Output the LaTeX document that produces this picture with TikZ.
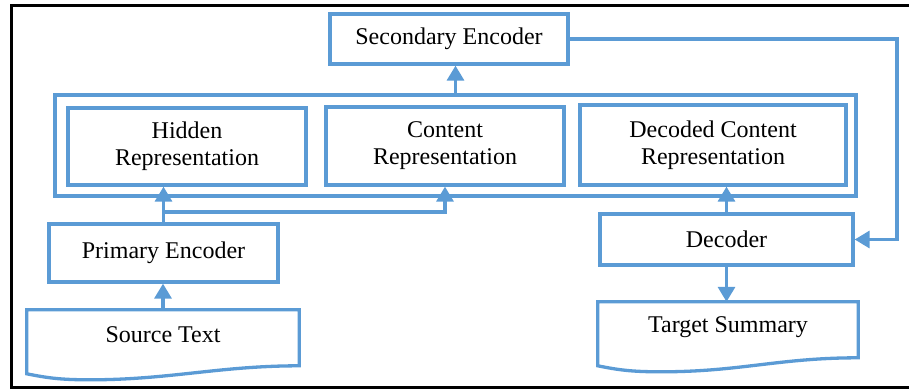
\documentclass[tikz,border=0pt]{standalone}
\usepackage{fontspec}
\setmainfont{Liberation Serif}
\usetikzlibrary{arrows.meta,calc}

\definecolor{boxblue}{RGB}{91,155,213}

\tikzset{
    block/.style={draw=boxblue, line width=3.3pt, align=center, inner sep=0pt,
        font=\fontsize{24}{27}\selectfont},
    doc/.style={align=center, inner sep=0pt, minimum width=#1, minimum height=50pt,
        font=\fontsize{24}{27}\selectfont},
    docline/.style={draw=boxblue, line width=3.3pt, line join=miter},
    flow/.style={draw=boxblue, line width=3.3pt, -{Triangle[width=17pt,length=15pt]}}
}

% wavy bottom of a document node
\newcommand{\docoutline}[1]{%
    \draw[docline] (#1.north west) -- (#1.north east) -- ++(0,56)
        .. controls +(-80,0) and +(80,0) .. ($(#1.north west)+(63,70)$)
        .. controls +(-30,0) and +(20,4) .. ($(#1.north west)+(0,64)$) -- cycle;
}

\begin{document}
\begin{tikzpicture}[x=1pt, y=-1pt]
        \useasboundingbox (0,0) rectangle (909,389);

        % frame
        \draw[line width=3pt, black] (11,5) rectangle (915,387);

        % representations
        \node[block, minimum width=801pt, minimum height=101pt] (rep_box) at (455.5,145.5) {};
        \node[block, minimum width=238pt, minimum height=77pt] (rep_hidden) at (187,146.5) {Hidden\\Representation};
        \node[block, minimum width=238pt, minimum height=78pt] (rep_content) at (445,146) {Content\\Representation};
        \node[block, minimum width=266pt, minimum height=80pt] (rep_decoded) at (713,145) {Decoded Content\\Representation};

        % encoders and decoder
        \node[block, minimum width=238pt, minimum height=50pt] (enc_secondary) at (449,39) {Secondary Encoder};
        \node[block, minimum width=229pt, minimum height=58pt] (enc_primary) at (163.5,253) {Primary Encoder};
        \node[block, minimum width=253pt, minimum height=51pt] (dec) at (726.5,239.5) {Decoder};

        % documents
        \node[doc=272pt] (doc_source) at (163,335) {Source Text};
        \node[doc=260pt] (doc_target) at (728,327) {Target Summary};
        \docoutline{doc_source}
        \docoutline{doc_target}

        %% connection
        \coordinate (split) at (163.5,212);
        \coordinate (back) at (897,39);
        \draw[flow] (doc_source.north) -- (doc_source.north |- enc_primary.south);
        \draw[flow] (enc_primary.north) -- (enc_primary.north |- rep_hidden.south);
        \draw[flow] (split) -| (rep_content.south);
        \draw[flow] (rep_box.north) -- (rep_box.north |- enc_secondary.south);
        \draw[flow] (enc_secondary.east) -- (back) |- (dec.east);
        \draw[flow] (dec.north) -- (dec.north |- rep_decoded.south);
        \draw[flow] (dec.south) -- (dec.south |- doc_target.north);
    \end{tikzpicture}
\end{document}
